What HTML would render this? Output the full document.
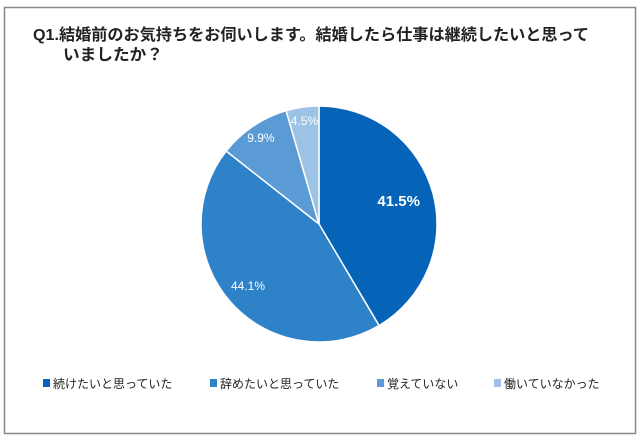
<!DOCTYPE html>
<html><head><meta charset="utf-8"><style>
body{margin:0;width:640px;height:439px;background:#fff;overflow:hidden;font-family:"Liberation Sans","Noto Sans CJK JP",sans-serif}
</style></head><body>
<svg width="640" height="439">
<rect x="4.5" y="7.5" width="631" height="426" fill="#fff" stroke="#888" stroke-width="1.5"/>
<text x="33" y="40" font-size="16" font-weight="bold" fill="#222" textLength="556" lengthAdjust="spacingAndGlyphs">Q1.結婚前のお気持ちをお伺いします。結婚したら仕事は継続したいと思って</text>
<text x="63" y="60" font-size="16" font-weight="bold" fill="#222" textLength="100" lengthAdjust="spacingAndGlyphs">いましたか？</text>
<g id="pie"></g>
<g id="legend"></g>
</svg>
<script>
const categories=["続けたいと思っていた","辞めたいと思っていた","覚えていない","働いていなかった"];
const values=[41.5,44.1,9.9,4.5];
const colors=["#0563b8","#2e82c8","#5b9bd5","#9cc3e5"];
const legendX=[43,210,377,494];
const cx=319,cy=224,r=118;
const ns="http://www.w3.org/2000/svg";
const pie=document.getElementById('pie'),leg=document.getElementById('legend');
const total=values.reduce((a,b)=>a+b,0);
let a0=-Math.PI/2;
values.forEach((v,i)=>{
 const a1=a0+v/total*2*Math.PI;
 const p=document.createElementNS(ns,'path');
 const x0=cx+r*Math.cos(a0),y0=cy+r*Math.sin(a0),x1=cx+r*Math.cos(a1),y1=cy+r*Math.sin(a1);
 p.setAttribute('d',`M${cx},${cy}L${x0},${y0}A${r},${r} 0 ${a1-a0>Math.PI?1:0} 1 ${x1},${y1}Z`);
 p.setAttribute('fill',colors[i]);p.setAttribute('stroke','#fff');p.setAttribute('stroke-width','1.5');
 
 
 pie.appendChild(p);
 const am=(a0+a1)/2,lr=i===0?r*0.7:(v<15?r*0.88:r*0.8);
 const t=document.createElementNS(ns,'text');
 t.setAttribute('x',cx+lr*Math.cos(am));t.setAttribute('y',cy+lr*Math.sin(am)+4);
 t.setAttribute('text-anchor','middle');t.setAttribute('fill','#fff');
 t.setAttribute('font-size',i===0?'15':'12');if(i===0)t.setAttribute('font-weight','bold');
 t.textContent=v.toFixed(1)+'%';
 
 
 pie.appendChild(t);
 const s=document.createElementNS(ns,'rect');
 s.setAttribute('x',legendX[i]);s.setAttribute('y',379);s.setAttribute('width',7);s.setAttribute('height',8);s.setAttribute('fill',colors[i]);
 
 
 leg.appendChild(s);
 const lt=document.createElementNS(ns,'text');
 lt.setAttribute('x',legendX[i]+10);lt.setAttribute('y',388);lt.setAttribute('font-size','12');lt.setAttribute('fill','#222');
 lt.textContent=categories[i];
 
 
 leg.appendChild(lt);
 a0=a1;
});
</script>
</body></html>
